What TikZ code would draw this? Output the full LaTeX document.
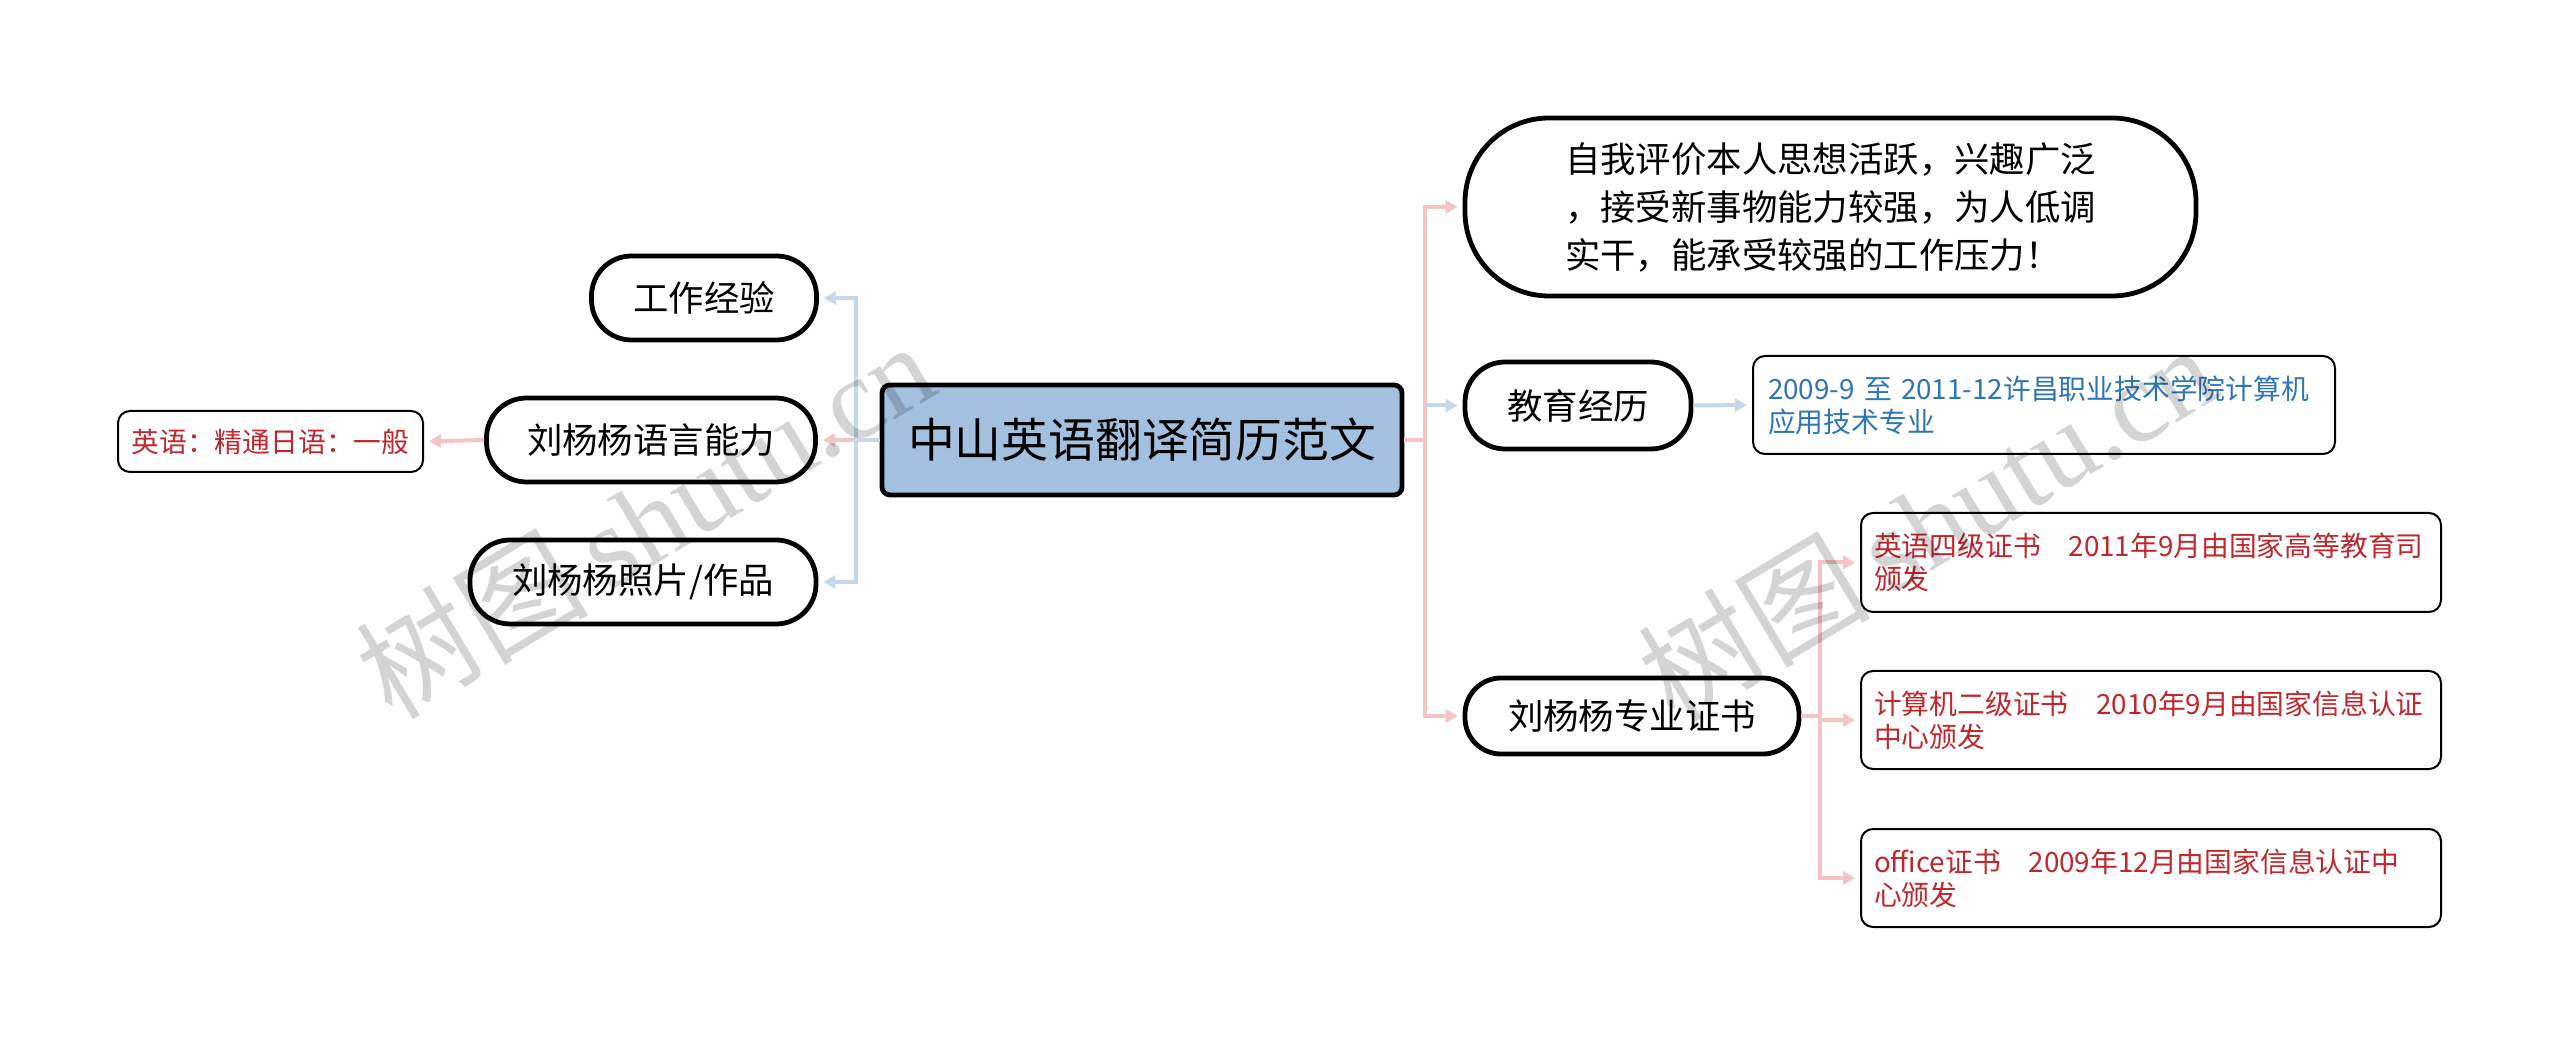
\documentclass[tikz,border=0pt]{standalone}
\usepackage{fontspec}
\setmainfont{Noto Sans CJK SC}
\newfontfamily\wmfont{Liberation Serif}
\usetikzlibrary{arrows.meta}
\definecolor{lblue}{HTML}{C5D8EA}
\definecolor{lpink}{HTML}{F2C4C4}
\definecolor{cfill}{HTML}{A3C1DE}
\definecolor{rtext}{HTML}{C0272D}
\definecolor{btext}{HTML}{2E75B6}
\tikzset{
  pill/.style={draw=black, line width=2.4pt, fill=white, rounded corners=20pt,
    minimum height=42pt, inner sep=0pt, font=\fontsize{17.7}{22}\selectfont},
  thinbox/.style={draw=black, line width=1pt, fill=white, rounded corners=6pt,
    inner xsep=6.5pt, inner ysep=0pt, align=left, font=\fontsize{13.9}{16.5}\selectfont},
  arr/.style={line width=2pt, shorten >=2.5pt, -{Triangle[length=6pt,width=6.5pt]}},
}
\begin{document}
\begin{tikzpicture}[x=0.5pt,y=-0.5pt]
\useasboundingbox (0,0) rectangle (2560,1047);
\fill[white] (0,0) rectangle (2560,1047);

% center
\node[draw=black, line width=2.4pt, fill=cfill, rounded corners=4pt,
  minimum width=260pt, minimum height=55pt, inner sep=0pt,
  font=\fontsize{23.4}{28}\selectfont] (c) at (1142,440) {中山英语翻译简历范文};

% left side
\node[pill, minimum width=112.5pt] (gz) at (704,298) {工作经验};
\node[pill, minimum width=164.5pt] (yy) at (651,440) {刘杨杨语言能力};
\node[pill, minimum width=173pt] (zp) at (643,582) {刘杨杨照片/作品};
\node[thinbox, text=rtext, minimum width=152.5pt, minimum height=30.5pt,
  font=\fontsize{13.9}{17}\selectfont] (yyl) at (270.5,441.5) {英语：精通日语：一般};

% right side
\node[pill, minimum width=365.5pt, minimum height=89pt, rounded corners=42pt,
  align=left, font=\fontsize{17.7}{24}\selectfont] (zw) at (1830.5,207)
  {自我评价本人思想活跃，兴趣广泛\\，接受新事物能力较强，为人低调\\实干，能承受较强的工作压力！};
\node[pill, minimum width=113pt, minimum height=43.5pt] (jy) at (1578,405.5) {教育经历};
\node[thinbox, text=btext, text width=276pt, inner xsep=7.5pt, minimum height=49pt] (jyd) at (2044,405)
  {2009-9 至 2011-12许昌职业技术学院计算机\\应用技术专业};
\node[pill, minimum width=167pt, minimum height=38pt, rounded corners=18pt] (zs) at (1632,716) {刘杨杨专业证书};
\node[thinbox, text=rtext, text width=277pt, minimum height=49.5pt] (c1) at (2151,562.5)
  {英语四级证书\quad 2011年9月由国家高等教育司\\颁发};
\node[thinbox, text=rtext, text width=277pt, minimum height=49pt] (c2) at (2151,720)
  {计算机二级证书\quad 2010年9月由国家信息认证\\中心颁发};
\node[thinbox, text=rtext, text width=277pt, minimum height=49pt] (c3) at (2151,878)
  {office证书\quad 2009年12月由国家信息认证中\\心颁发};

% connectors
\coordinate (lt) at (856,440);
\coordinate (rt) at (1425,440);
\coordinate (ct) at (1820,716);
\draw[lpink, arr] (c.west) -- (yy.east);
\draw[lblue, arr] (c.west) -- (lt) |- (gz.east);
\draw[lblue, arr] (c.west) -- (lt) |- (zp.east);
\draw[lpink, arr] (yy.west) -- (yyl.east);

\draw[lblue, arr] (c.east) -- (rt) |- (jy.west);
\draw[lpink, arr] (c.east) -- (rt) |- (zw.west);
\draw[lpink, arr] (c.east) -- (rt) |- (zs.west);
\draw[lblue, arr] (jy.east) -- (jyd.west);

\draw[lpink, arr] (zs.east) -- (ct) |- (c1.west);
\draw[lpink, arr] (zs.east) -- (ct) |- (c2.west);
\draw[lpink, arr] (zs.east) -- (ct) |- (c3.west);

% watermarks
\node[rotate=31, text=black, opacity=0.17, font=\fontsize{58}{60}\selectfont] (wm1) at (645,519)
  {树图\,{\wmfont shutu.cn}};
\node[rotate=31, text=black, opacity=0.17, font=\fontsize{58}{60}\selectfont] (wm2) at (1927,522)
  {树图\,{\wmfont shutu.cn}};
\end{tikzpicture}
\end{document}
